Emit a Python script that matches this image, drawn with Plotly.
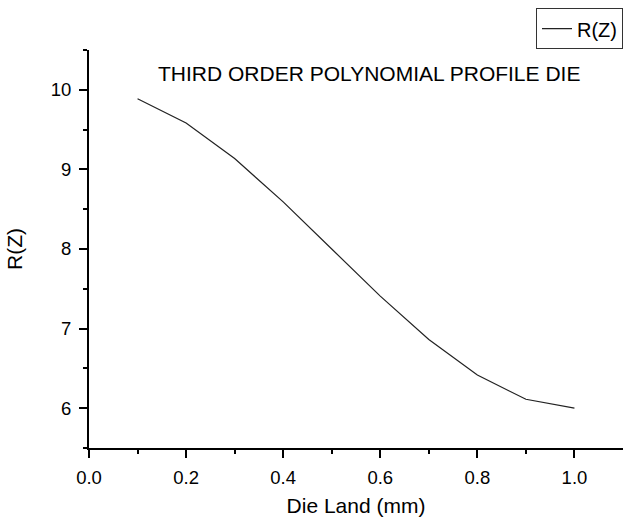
import plotly.graph_objects as go

die_land = [0.1, 0.2, 0.3, 0.4, 0.5, 0.6, 0.7, 0.8, 0.9, 1.0]
r_z = [9.888, 9.584, 9.136, 8.592, 8.0, 7.408, 6.864, 6.416, 6.112, 6.0]
series_name = "R(Z)"
title_text = "THIRD ORDER POLYNOMIAL PROFILE DIE"
x_title = "Die Land (mm)"
y_title = "R(Z)"

FONT = "Arial, Liberation Sans, sans-serif"

fig = go.Figure()
fig.add_trace(go.Scatter(x=die_land, y=r_z, mode="lines", name=series_name,
                         line=dict(color="#222222", width=1.2)))

axis_common = dict(showline=True, linecolor="black", linewidth=2, showgrid=False,
                   zeroline=False, ticks="outside", ticklen=8, tickwidth=2,
                   tickcolor="black", tickfont=dict(family=FONT, size=18.5, color="black"),
                   ticklabelstandoff=4, mirror=False)

fig.update_layout(
    width=623, height=517,
    margin=dict(l=89, r=0, t=50, b=69),
    paper_bgcolor="white", plot_bgcolor="white",
    font=dict(family=FONT, color="black"),
    xaxis=dict(range=[0, 1.1], tickvals=[0, 0.2, 0.4, 0.6, 0.8, 1.0],
               ticktext=["0.0", "0.2", "0.4", "0.6", "0.8", "1.0"],
               minor=dict(tickvals=[0.1, 0.3, 0.5, 0.7, 0.9], ticks="outside", ticklen=4,
                          tickwidth=2, tickcolor="black"),
               title=dict(text=x_title, font=dict(family=FONT, size=21), standoff=14),
               **axis_common),
    yaxis=dict(range=[5.5, 10.5], tickvals=[6, 7, 8, 9, 10],
               minor=dict(tickvals=[5.5, 6.5, 7.5, 8.5, 9.5, 10.5], ticks="outside", ticklen=4,
                          tickwidth=2, tickcolor="black"),
               title=dict(text=y_title, font=dict(family=FONT, size=21), standoff=22),
               **axis_common),
    showlegend=True,
    legend=dict(x=1, xanchor="right", y=1.105, yanchor="top",
                bordercolor="#333333", borderwidth=1, bgcolor="white",
                font=dict(family=FONT, size=20, color="black"),
                tracegroupgap=0, itemwidth=30),
    annotations=[dict(text=title_text, xref="paper", yref="paper", x=0.524, y=0.94,
                      xanchor="center", yanchor="middle", showarrow=False,
                      font=dict(family=FONT, size=21, color="black"))],
)

fig.write_html("out.html")
